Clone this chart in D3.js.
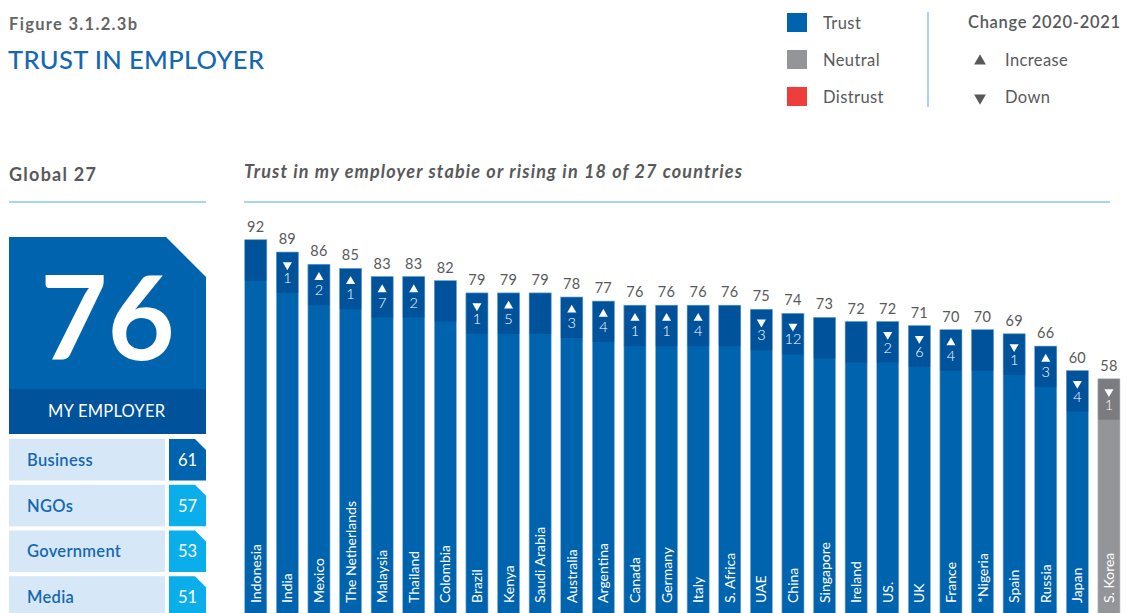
<!DOCTYPE html>
<html>
<head>
<meta charset="utf-8">
<script src="https://cdn.jsdelivr.net/npm/d3@7/dist/d3.min.js"></script>
<style>
  html, body { margin: 0; padding: 0; background: #fff; }
  svg { display: block; font-family: Lato, "Open Sans", sans-serif; }
</style>
</head>
<body>
<svg id="chart" width="1127" height="613"></svg>
<script>
// ---- Data ----
const countries = ["Indonesia", "India", "Mexico", "The Netherlands", "Malaysia", "Thailand", "Colombia",
  "Brazil", "Kenya", "Saudi Arabia", "Australia", "Argentina", "Canada", "Germany", "Italy", "S. Africa",
  "UAE", "China", "Singapore", "Ireland", "US.", "UK", "France", "*Nigeria", "Spain", "Russia", "Japan", "S. Korea"];
const trustValues = [92, 89, 86, 85, 83, 83, 82, 79, 79, 79, 78, 77, 76, 76, 76, 76, 75, 74, 73, 72, 72, 71, 70, 70, 69, 66, 60, 58];
// change 2020-2021: positive = increase, negative = down, 0 = no change shown
const changeValues = [0, -1, 2, 1, 7, 2, 0, -1, 5, 0, 3, 4, 1, 1, 4, 0, -3, -12, 0, 0, -2, -6, 4, 0, -1, 3, -4, -1];
// trust level band for each country
const levels = ["Trust", "Trust", "Trust", "Trust", "Trust", "Trust", "Trust", "Trust", "Trust", "Trust",
  "Trust", "Trust", "Trust", "Trust", "Trust", "Trust", "Trust", "Trust", "Trust", "Trust", "Trust", "Trust",
  "Trust", "Trust", "Trust", "Trust", "Trust", "Neutral"];

const globalValue = 76;
const institutions = ["Business", "NGOs", "Government", "Media"];
const institutionValues = [61, 57, 53, 51];
const institutionLevels = ["Trust", "Neutral", "Neutral", "Neutral"];

const legendLevels = ["Trust", "Neutral", "Distrust"];
const legendChanges = ["Increase", "Down"];

// ---- Styles ----
const gray = "#58595b";
const lightLine = "#a9d4f2";
const levelColor = { Trust: "#0063ad", Neutral: "#939598", Distrust: "#ee3e3b" };
const levelCap = { Trust: "#00539b", Neutral: "#7b7c7f", Distrust: "#cf2e2b" };
const instColor = { Trust: "#0063ad", Neutral: "#0aaeea" };

const svg = d3.select("#chart");

// ---- Header ----
svg.append("text").attr("x", 9).attr("y", 30)
  .attr("fill", "#646567").attr("font-size", 16.5).attr("font-weight", 700)
  .attr("textLength", 128).attr("lengthAdjust", "spacing")
  .text("Figure 3.1.2.3b");
svg.append("text").attr("x", 8).attr("y", 69)
  .attr("fill", "#1668b0").attr("font-size", 25.5).attr("font-weight", 500)
  .attr("textLength", 256).attr("lengthAdjust", "spacing")
  .text("TRUST IN EMPLOYER");

// ---- Legend ----
const legend = svg.append("g");
legend.selectAll("rect").data(legendLevels).join("rect")
  .attr("x", 787).attr("y", (d, i) => 13 + i * 37)
  .attr("width", 20).attr("height", 19)
  .attr("fill", d => levelColor[d]);
legend.selectAll("text.lv").data(legendLevels).join("text").attr("class", "lv")
  .attr("x", 823).attr("y", (d, i) => 29 + i * 37)
  .attr("fill", gray).attr("font-size", 16.5).attr("letter-spacing", 0.4)
  .text(d => d);
legend.append("line").attr("x1", 928).attr("x2", 928).attr("y1", 12).attr("y2", 107)
  .attr("stroke", lightLine).attr("stroke-width", 2);
legend.append("text").attr("x", 968).attr("y", 28)
  .attr("fill", gray).attr("font-size", 16.5).attr("font-weight", 600)
  .attr("textLength", 152).attr("lengthAdjust", "spacing")
  .text("Change 2020-2021");
legend.selectAll("path").data(legendChanges).join("path")
  .attr("d", d3.symbol(d3.symbolTriangle, 60))
  .attr("transform", (d, i) => `translate(980,${61 + i * 37}) rotate(${d === "Down" ? 180 : 0})`)
  .attr("fill", gray);
legend.selectAll("text.ch").data(legendChanges).join("text").attr("class", "ch")
  .attr("x", 1005).attr("y", (d, i) => 66 + i * 37)
  .attr("fill", gray).attr("font-size", 16.5).attr("letter-spacing", 0.4)
  .text(d => d);

// ---- Section headings ----
svg.append("text").attr("x", 9).attr("y", 181)
  .attr("fill", gray).attr("font-size", 18).attr("font-weight", 700)
  .attr("textLength", 87).attr("lengthAdjust", "spacing")
  .text("Global 27");
svg.append("line").attr("x1", 9).attr("x2", 206).attr("y1", 202).attr("y2", 202)
  .attr("stroke", lightLine).attr("stroke-width", 2);
svg.append("text").attr("x", 244).attr("y", 178)
  .attr("fill", gray).attr("font-size", 18).attr("font-weight", 700).attr("font-style", "italic")
  .attr("textLength", 498).attr("lengthAdjust", "spacing")
  .text("Trust in my employer stabie or rising in 18 of 27 countries");
svg.append("line").attr("x1", 244).attr("x2", 1110).attr("y1", 202).attr("y2", 202)
  .attr("stroke", lightLine).attr("stroke-width", 2);

// ---- Global panel ----
function levelForValue(v) { return v >= 60 ? "Trust" : v >= 50 ? "Neutral" : "Distrust"; }

const panel = svg.append("g");
const px0 = 9, px1 = 206, pTop = 237, chamfer = 40;
panel.append("path")
  .attr("d", `M${px0},${pTop}H${px1 - chamfer}L${px1},${pTop + chamfer}V389H${px0}Z`)
  .attr("fill", levelColor[levelForValue(globalValue)]);
panel.append("text").attr("x", (px0 + px1) / 2).attr("y", 360)
  .attr("text-anchor", "middle").attr("fill", "#fff")
  .attr("font-size", 116).attr("font-weight", 700)
  .text(globalValue);
panel.append("rect").attr("x", px0).attr("y", 389).attr("width", px1 - px0).attr("height", 45)
  .attr("fill", levelCap.Trust);
panel.append("text").attr("x", (px0 + px1) / 2 - 1).attr("y", 417)
  .attr("text-anchor", "middle").attr("fill", "#fff").attr("font-size", 16.5)
  .attr("textLength", 117).attr("lengthAdjust", "spacing")
  .text("MY EMPLOYER");

const rowY = d3.scaleBand().domain(institutions).range([439, 439 + 44.7 * 4]).paddingInner(0.09);
const rows = panel.selectAll("g.row")
  .data(institutions.map((name, i) => ({ name, value: institutionValues[i], level: institutionLevels[i] })))
  .join("g").attr("class", "row")
  .attr("transform", d => `translate(0,${rowY(d.name)})`);
const rh = rowY.bandwidth();
rows.append("rect").attr("x", px0).attr("width", 156).attr("height", rh).attr("fill", "#d6e8f7");
rows.append("text").attr("x", 27).attr("y", rh / 2 + 6)
  .attr("fill", "#1668b0").attr("font-size", 16.5).attr("font-weight", 600)
  .attr("letter-spacing", 0.3)
  .text(d => d.name);
rows.append("path")
  .attr("d", `M169,0H195L${px1},11V${rh}H169Z`)
  .attr("fill", d => instColor[d.level]);
rows.append("text").attr("x", 187.5).attr("y", rh / 2 + 6)
  .attr("text-anchor", "middle").attr("fill", "#fff").attr("font-size", 16.5)
  .text(d => d.value);

// ---- Country bars ----
const x = d3.scaleBand().domain(countries).range([244.7, 1120]).paddingInner(0.3).paddingOuter(0);
const y = d3.scaleLinear().domain([0, 100]).range([616, 207]);
const capH = 41;

const bars = svg.append("g").selectAll("g.bar")
  .data(countries.map((c, i) => ({ c, v: trustValues[i], ch: changeValues[i], lv: levels[i] })))
  .join("g").attr("class", "bar")
  .attr("transform", d => `translate(${x(d.c)},0)`);

const bw = x.bandwidth();
bars.append("rect")
  .attr("y", d => y(d.v)).attr("width", bw).attr("height", d => y(0) - y(d.v))
  .attr("fill", d => levelColor[d.lv]);
bars.append("rect")
  .attr("y", d => y(d.v)).attr("width", bw).attr("height", capH)
  .attr("fill", d => levelCap[d.lv]);
// thin light outline around each bar
bars.append("rect")
  .attr("y", d => y(d.v)).attr("width", bw).attr("height", d => y(0) - y(d.v))
  .attr("fill", "none").attr("stroke", d => d.lv === "Trust" ? "#8ab6de" : "#c4c5c7").attr("stroke-width", 0.6);

// value labels above bars
bars.append("text")
  .attr("x", bw / 2).attr("y", d => y(d.v) - 8)
  .attr("text-anchor", "middle").attr("fill", gray).attr("font-size", 14.5)
  .attr("letter-spacing", 0.3)
  .text(d => d.v);

// change markers
const changed = bars.filter(d => d.ch !== 0);
changed.append("path")
  .attr("d", d3.symbol(d3.symbolTriangle, 36))
  .attr("transform", d => `translate(${bw / 2},${y(d.v) + 13}) rotate(${d.ch < 0 ? 180 : 0})`)
  .attr("fill", "#fff");
changed.append("text")
  .attr("x", bw / 2).attr("y", d => y(d.v) + 31)
  .attr("text-anchor", "middle").attr("fill", "#fff").attr("font-size", 14.5).attr("font-weight", 300)
  .text(d => Math.abs(d.ch));

// country names, rotated along the bar
bars.append("text")
  .attr("transform", `translate(${bw / 2},603) rotate(-90)`)
  .attr("dy", "0.36em")
  .attr("fill", "#fff").attr("font-size", 14)
  .text(d => d.c);
</script>
</body>
</html>
